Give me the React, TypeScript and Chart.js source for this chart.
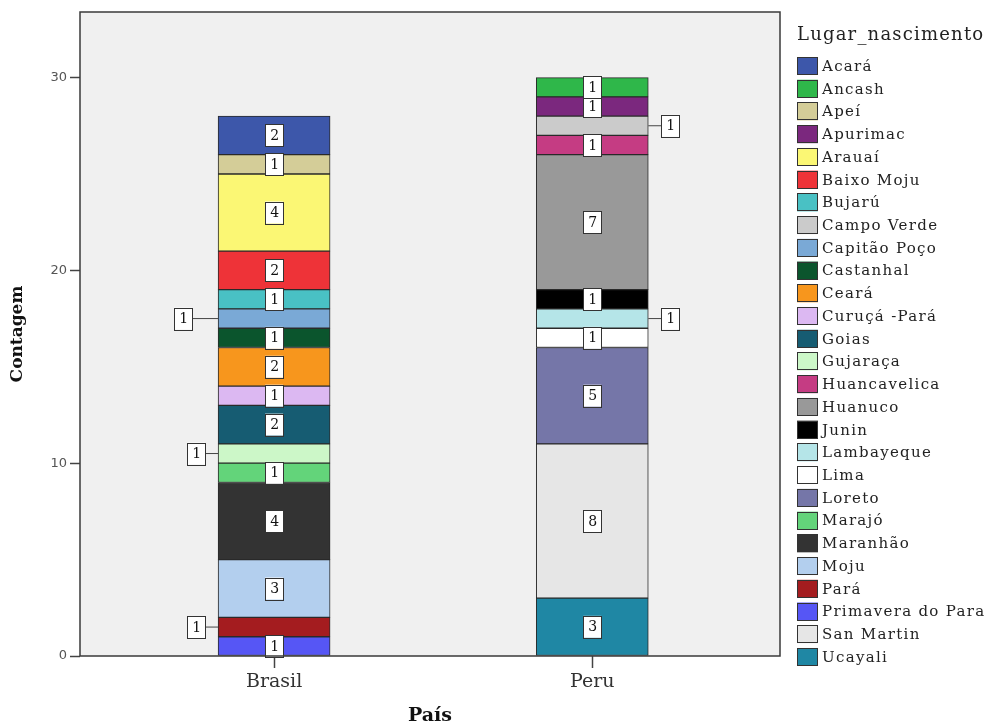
import React, { useEffect, useRef } from 'react';
import { Chart, registerables } from 'chart.js';

Chart.register(...registerables);

// ---- data ----
const countries = ['Brasil', 'Peru'];
const places = [
  'Ucayali', 'San Martin', 'Primavera do Para', 'Pará', 'Moju', 'Maranhão', 'Marajó', 'Loreto',
  'Lima', 'Lambayeque', 'Junin', 'Huanuco', 'Huancavelica', 'Gujaraça', 'Goias', 'Curuçá -Pará',
  'Ceará', 'Castanhal', 'Capitão Poço', 'Campo Verde', 'Bujarú', 'Baixo Moju', 'Arauaí',
  'Apurimac', 'Apeí', 'Ancash', 'Acará',
];
const brasilCounts = [0, 0, 1, 1, 3, 4, 1, 0, 0, 0, 0, 0, 0, 1, 2, 1, 2, 1, 1, 0, 1, 2, 4, 0, 1, 0, 2];
const peruCounts = [3, 8, 0, 0, 0, 0, 0, 5, 1, 1, 1, 7, 1, 0, 0, 0, 0, 0, 0, 1, 0, 0, 0, 1, 0, 1, 0];
const yTicks = [0, 10, 20, 30];

const placeColors = [
  '#1f87a4', '#e6e6e6', '#5656f5', '#a41c1f', '#b3cfee', '#333333', '#63d47a', '#7576a8',
  '#ffffff', '#b5e5e8', '#000000', '#999999', '#c53c83', '#ccf7c8', '#165c72', '#dcb8f2',
  '#f7961d', '#0b552d', '#7aa9d6', '#cbcbcb', '#49c1c4', '#ee3338', '#fbf774',
  '#7b287e', '#d4cd98', '#2fb74a', '#3d57aa',
];

// labels drawn outside the bar (side: -1 left, +1 right; gap from bar edge)
const outsideLabels: Record<string, { side: number; gap: number }> = {
  'Capitão Poço|Brasil': { side: -1, gap: 26 },
  'Gujaraça|Brasil': { side: -1, gap: 13 },
  'Pará|Brasil': { side: -1, gap: 13 },
  'Campo Verde|Peru': { side: 1, gap: 13 },
  'Lambayeque|Peru': { side: 1, gap: 13 },
};

const plotBgPlugin = {
  id: 'plotBg',
  beforeDraw(chart: any) {
    const { ctx, chartArea: a } = chart;
    ctx.save();
    ctx.fillStyle = '#f0f0f0';
    ctx.fillRect(a.left, a.top, a.right - a.left, a.bottom - a.top);
    ctx.restore();
  },
  afterDraw(chart: any) {
    const { ctx, chartArea: a } = chart;
    ctx.save();
    ctx.strokeStyle = '#3a3a3a';
    ctx.lineWidth = 1.5;
    ctx.strokeRect(a.left, a.top, a.right - a.left, a.bottom - a.top);
    ctx.restore();
  },
};

const valueLabelPlugin = {
  id: 'valueLabels',
  afterDatasetsDraw(chart: any) {
    const { ctx } = chart;
    ctx.save();
    ctx.font = '14px "DejaVu Serif"';
    ctx.textAlign = 'center';
    ctx.textBaseline = 'middle';
    chart.data.datasets.forEach((ds: any, di: number) => {
      const meta = chart.getDatasetMeta(di);
      ds.data.forEach((pt: any, i: number) => {
        if (pt.y == null) return;
        const el: any = meta.data[i];
        if (!el) return;
        const cy = (el.y + el.base) / 2;
        const half = el.width / 2;
        const w = 18;
        const h = 22;
        let cx = el.x;
        const key = ds.label + '|' + countries[i];
        const out = outsideLabels[key];
        if (out) {
          const edge = el.x + out.side * half;
          cx = edge + out.side * (out.gap + w / 2);
          ctx.strokeStyle = '#444';
          ctx.lineWidth = 1;
          ctx.beginPath();
          ctx.moveTo(edge, cy);
          ctx.lineTo(cx - out.side * (w / 2), cy);
          ctx.stroke();
        }
        ctx.fillStyle = '#ffffff';
        ctx.fillRect(cx - w / 2, cy - h / 2, w, h);
        ctx.strokeStyle = '#333';
        ctx.lineWidth = 1;
        ctx.strokeRect(Math.round(cx - w / 2) + 0.5, Math.round(cy - h / 2) + 0.5, w, h);
        ctx.fillStyle = '#111';
        ctx.fillText(String(pt.y), cx + 0.5, cy + 1);
      });
    });
    ctx.restore();
  },
};

const legendPlugin = {
  id: 'sideLegend',
  afterDraw(chart: any) {
    const { ctx } = chart;
    const x0 = 797;
    ctx.save();
    ctx.fillStyle = '#222';
    ctx.textBaseline = 'middle';
    ctx.textAlign = 'left';
    ctx.font = '18px "DejaVu Serif"';
    (ctx as any).letterSpacing = '1.2px';
    ctx.fillText('Lugar_nascimento', x0, 35);
    ctx.font = '15px "DejaVu Serif"';
    (ctx as any).letterSpacing = '1.3px';
    const ds = chart.data.datasets.slice().reverse();
    ds.forEach((d: any, i: number) => {
      const cy = 66 + i * 22.73;
      ctx.fillStyle = d.backgroundColor;
      ctx.fillRect(x0, cy - 9, 21, 18);
      ctx.strokeStyle = '#333';
      ctx.lineWidth = 1;
      ctx.strokeRect(x0 + 0.5, Math.round(cy - 9) + 0.5, 20, 17);
      ctx.fillStyle = '#222';
      ctx.fillText(d.label, 822, cy + 1);
    });
    (ctx as any).letterSpacing = '0px';
    ctx.restore();
  },
};

export default function App() {
  const ref = useRef<HTMLCanvasElement | null>(null);
  useEffect(() => {
    if (!ref.current) return;
    const datasets = places.map((p, k) => ({
      label: p,
      data: [brasilCounts[k], peruCounts[k]].map((v, i) => ({ x: i, y: v > 0 ? v : null })),
      backgroundColor: placeColors[k],
      borderColor: '#2a2a2a',
      borderWidth: 1,
      borderSkipped: false,
      barThickness: 112,
      grouped: false,
    }));
    const chart = new Chart(ref.current, {
      type: 'bar',
      data: { datasets },
      plugins: [plotBgPlugin, valueLabelPlugin, legendPlugin],
      options: {
        responsive: false,
        animation: false,
        layout: { padding: { top: 12, right: 208, left: 0, bottom: 0 } },
        plugins: { legend: { display: false }, tooltip: { enabled: false } },
        scales: {
          x: {
            type: 'linear',
            min: -0.61,
            max: 1.59,
            offset: false,
            afterBuildTicks: (s: any) => {
              s.ticks = countries.map((_, i) => ({ value: i }));
            },
            afterFit: (s: any) => {
              s.height = 71;
            },
            grid: { display: true, offset: false, drawOnChartArea: false, drawTicks: true, tickLength: 12, tickColor: '#444', tickWidth: 1.5 },
            border: { display: false },
            ticks: {
              autoSkip: false,
              padding: 3,
              color: '#333',
              font: { family: 'DejaVu Serif', size: 19 },
              callback: (v: any) => countries[v] ?? '',
            },
            title: {
              display: true,
              text: 'País',
              color: '#111',
              font: { family: 'DejaVu Serif', size: 19, weight: 'bold', lineHeight: 1.1 },
              padding: { top: 0, bottom: 0 },
            },
          },
          y: {
            stacked: true,
            min: 0,
            max: 33.4,
            afterBuildTicks: (s: any) => {
              s.ticks = yTicks.map((v) => ({ value: v }));
            },
            afterFit: (s: any) => {
              s.width = 80;
            },
            grid: { display: true, drawOnChartArea: false, drawTicks: true, tickLength: 10, tickColor: '#444', tickWidth: 1.5 },
            border: { display: false },
            ticks: {
              padding: 3,
              color: '#555',
              font: { family: 'DejaVu Sans', size: 13 },
            },
            title: {
              display: true,
              text: 'Contagem',
              color: '#111',
              font: { family: 'DejaVu Serif', size: 17, weight: 'bold', lineHeight: 1.2 },
              padding: { top: 7, bottom: 0 },
            },
          },
        },
      },
    });
    return () => chart.destroy();
  }, []);
  return (
    <div style={{ position: 'absolute', left: 0, top: 0, width: 988, height: 727, background: '#fff' }}>
      <canvas ref={ref} width={988} height={727} />
    </div>
  );
}
